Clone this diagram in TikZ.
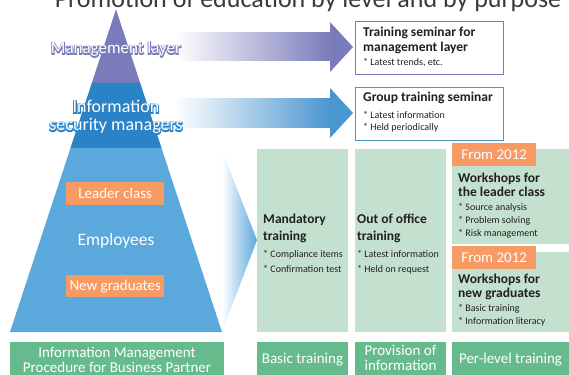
\documentclass[tikz,border=0pt]{standalone}
\usepackage{fontspec}
\setmainfont{Carlito}
\newfontfamily\halofont{Carlito}[FakeBold=11]
\definecolor{mgmtpurple}{HTML}{7A7BBA}
\definecolor{secblue}{HTML}{2A83C7}
\definecolor{empblue}{HTML}{5AA8DC}
\definecolor{tagorange}{HTML}{F89A64}
\definecolor{palegreen}{HTML}{C4E1CF}
\definecolor{labelgreen}{HTML}{66BB8D}
\definecolor{textgray}{HTML}{231F20}
\definecolor{titlegray}{HTML}{3A3A3A}

\begin{document}
\begin{tikzpicture}[x=1pt,y=-1pt,
        colbox/.style={fill=palegreen, anchor=north west, inner sep=0pt},
        tagbox/.style={fill=tagorange, text=white, anchor=north west, inner sep=0pt, font=\fontsize{15}{18}\selectfont},
        footbox/.style={fill=labelgreen, anchor=north west, inner sep=0pt},
        foottext/.style={text=white, align=center, anchor=base, inner sep=0pt, font=\fontsize{15}{15}\selectfont},
        seminarbox/.style={draw, line width=1pt, fill=white, anchor=north west, inner sep=0pt},
        headtext/.style={text=textgray, align=left, anchor=base west, inner sep=0pt, font=\bfseries\fontsize{13.5}{15}\selectfont},
        itemtext/.style={text=textgray, align=left, anchor=base west, inner sep=0pt, font=\fontsize{10}{12.5}\selectfont},
        layertext/.style={text=white, align=center, anchor=base, inner sep=0pt},
    ]
    \useasboundingbox (0,0) rectangle (569,374);

    \node[text=titlegray, anchor=base, inner sep=0pt, font=\fontsize{26}{26}\selectfont] (title) at (308,7.5) {Promotion of education by level and by purpose};

    \shade[left color=white, right color=mgmtpurple] (175,33) rectangle (331,61);
    \fill[mgmtpurple] (330,22) -- (353,47) -- (330,72) -- cycle;
    \shade[left color=white, right color=secblue!85!white] (175,99) rectangle (331,128);
    \fill[secblue!85!white] (330,88) -- (353,113) -- (330,138) -- cycle;
    \shade[left color=white, right color=empblue] (223,153) -- (257,240) -- (222,332) -- cycle;

    \fill[mgmtpurple] (116,9.3) -- (140.2,83) -- (91.8,83) -- cycle;
    \fill[secblue] (91.8,83) -- (140.2,83) -- (161.5,148) -- (70.5,148) -- cycle;
    \fill[empblue] (70.5,148) -- (161.5,148) -- (222,332) -- (10,332) -- cycle;

    \node[layertext, text=mgmtpurple, font=\halofont\fontsize{17}{17}\selectfont] (mgmthalo) at (116,54) {Management layer};
    \node[layertext, font=\fontsize{17}{17}\selectfont] (mgmt) at (116,54) {Management layer};
    \node[layertext, text=secblue, font=\halofont\fontsize{18}{18}\selectfont] (sechalo) at (116,131) {Information\\security managers};
    \node[layertext, font=\fontsize{18}{18}\selectfont] (secmgr) at (116,131) {Information\\security managers};
    \node[tagbox, minimum width=98, minimum height=23] (leader) at (66,182) {Leader class};
    \node[layertext, font=\fontsize{17.5}{17.5}\selectfont] (emp) at (116,245) {Employees};
    \node[tagbox, minimum width=98, minimum height=22] (newgrad) at (66,275) {New graduates};

    \node[seminarbox, draw=mgmtpurple, minimum width=148, minimum height=53] (mgmtsem) at (355,21) {};
    \node[headtext] (mgmtsemhead) at (363,52) {Training seminar for\\management layer};
    \node[itemtext] (mgmtsemitem) at (363,66) {* Latest trends, etc.};

    \node[seminarbox, draw=secblue!85!white, minimum width=148, minimum height=53] (groupsem) at (355,87) {};
    \node[headtext] (groupsemhead) at (363,102) {Group training seminar};
    \node[itemtext] (groupsemitem) at (363,131) {* Latest information\\* Held periodically};

    \node[colbox, minimum width=91, minimum height=183] (basiccol) at (257,149) {};
    \node[headtext, font=\bfseries\fontsize{13.5}{17}\selectfont] (basichead) at (263,240) {Mandatory\\training};
    \node[itemtext, font=\fontsize{10}{15}\selectfont] (basicitem) at (263,272) {* Compliance items\\* Confirmation test};

    \node[colbox, minimum width=91, minimum height=183] (infocol) at (355,149) {};
    \node[headtext, font=\bfseries\fontsize{13.5}{17}\selectfont] (infohead) at (357,240) {Out of office\\training};
    \node[itemtext, font=\fontsize{10}{15}\selectfont] (infoitem) at (357,272) {* Latest information\\* Held on request};

    \node[colbox, minimum width=117, minimum height=95] (leadercol) at (452,149) {};
    \node[tagbox, minimum width=84, minimum height=23] (leadertag) at (452,143) {From 2012};
    \node[headtext, font=\bfseries\fontsize{13.5}{14}\selectfont] (leaderhead) at (458,196) {Workshops for\\the leader class};
    \node[itemtext, font=\fontsize{10}{13}\selectfont] (leaderitem) at (458,236) {* Source analysis\\* Problem solving\\* Risk management};

    \node[colbox, minimum width=117, minimum height=80] (gradcol) at (452,252) {};
    \node[tagbox, minimum width=84, minimum height=23] (gradtag) at (452,246) {From 2012};
    \node[headtext, font=\bfseries\fontsize{13.5}{14}\selectfont] (gradhead) at (458,297) {Workshops for\\new graduates};
    \node[itemtext, font=\fontsize{10}{12.5}\selectfont] (graditem) at (458,324) {* Basic training\\* Information literacy};

    \node[footbox, minimum width=214, minimum height=33] (partnerfoot) at (10,342) {};
    \node[foottext] (partnertext) at (117,372) {Information Management\\Procedure for Business Partner};
    \node[footbox, minimum width=91, minimum height=33] (basicfoot) at (257,342) {};
    \node[foottext] (basictext) at (302.5,363) {Basic training};
    \node[footbox, minimum width=91, minimum height=33] (infofoot) at (355,342) {};
    \node[foottext] (infotext) at (400.5,370) {Provision of\\information};
    \node[footbox, minimum width=117, minimum height=33] (levelfoot) at (452,342) {};
    \node[foottext] (leveltext) at (510.5,363) {Per-level training};
\end{tikzpicture}
\end{document}
